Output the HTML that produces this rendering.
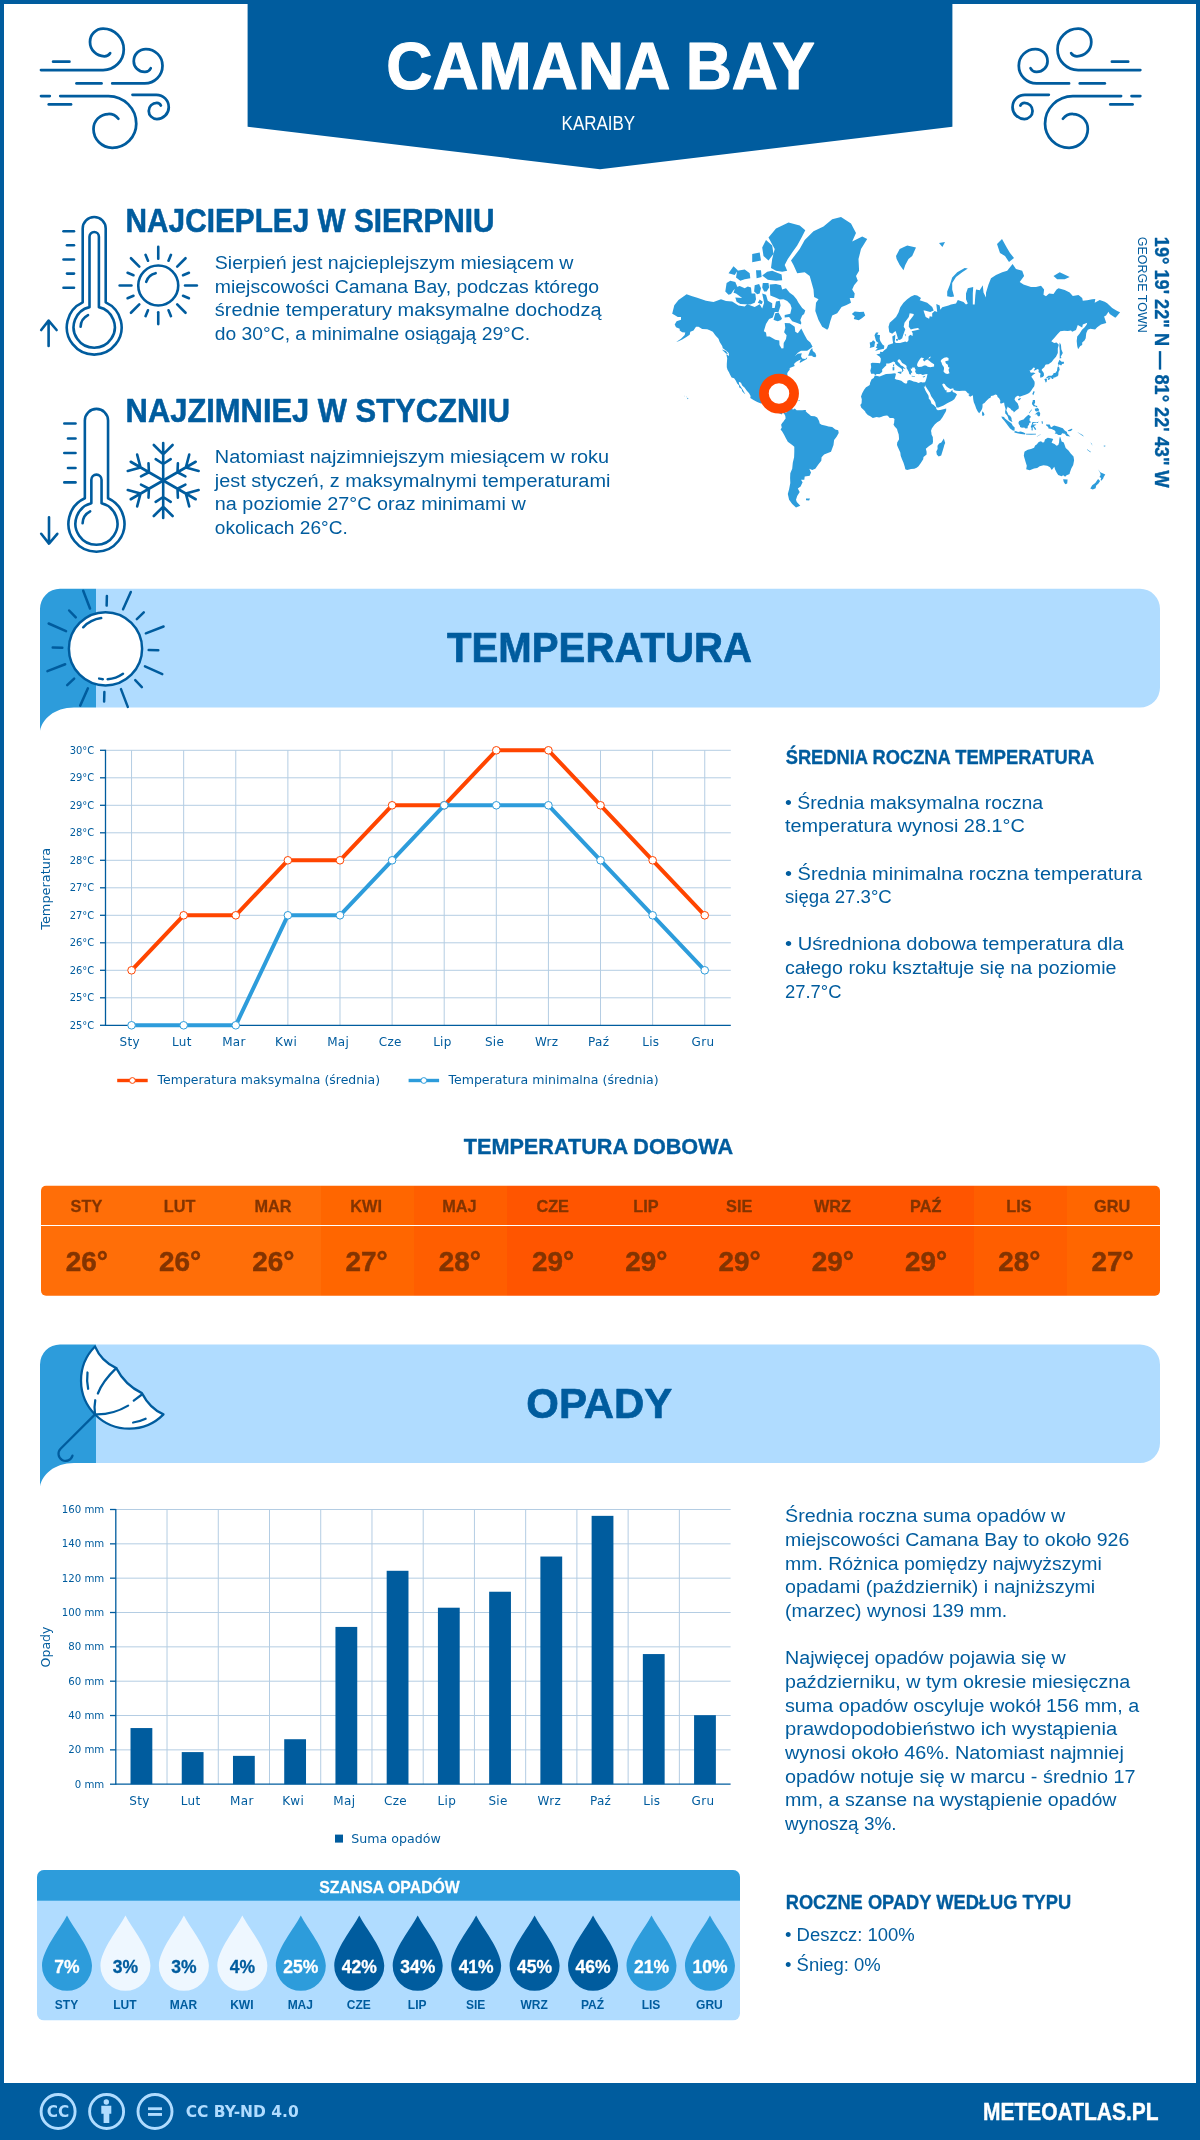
<!DOCTYPE html>
<html lang="pl">
<head>
<meta charset="utf-8">
<title>Camana Bay - pogoda i klimat</title>
<style>
html,body{margin:0;padding:0;background:#fff;}
body{width:1200px;height:2140px;overflow:hidden;}
svg{display:block;will-change:transform;}
</style>
</head>
<body>
<svg width="1200" height="2140" viewBox="0 0 1200 2140" font-family="'Liberation Sans', Arial, sans-serif" fill="#005c9e">
<rect x="0" y="0" width="1200" height="2140" fill="#005c9e"/>
<rect x="4" y="4" width="1192" height="2079" fill="#fff"/>
<polygon points="247.6,0 952.4,0 952.4,126.8 600,169.2 247.6,126.8" fill="#005c9e"/>
<text x="386.30" y="88.70" font-size="66.90" font-weight="bold" fill="#fff" textLength="428.50" lengthAdjust="spacingAndGlyphs" stroke="#fff" stroke-width="1.14" stroke-linejoin="round">CAMANA BAY</text>
<text x="561.60" y="130.40" font-size="19.30" fill="#fff" textLength="73.50" lengthAdjust="spacingAndGlyphs">KARAIBY</text>
<g transform="translate(30 20) scale(0.125)" fill="none" stroke="#005c9e" stroke-width="22" stroke-linecap="round" stroke-linejoin="round">
<path d="M88,400 H585 A165,165 0 0 0 750,235 A165,165 0 0 0 585,70 A105,105 0 0 0 480,175 A115,115 0 0 0 595,290 A55,55 0 0 0 641,265"/>
<path d="M185,333 H315"/>
<path d="M372,507 H572"/>
<path d="M658,507 H918 A142,142 0 0 0 1060,365 A133,133 0 0 0 927,232 A97,97 0 0 0 830,329 A86,86 0 0 0 916,415 A52,52 0 0 0 966,386"/>
<path d="M88,608 H158"/>
<path d="M242,608 H628 A222,222 0 0 1 850,830 A192,192 0 0 1 658,1022 A150,150 0 0 1 508,872 A120,120 0 0 1 628,752 A100,100 0 0 1 707,790"/>
<path d="M150,675 H328"/>
<path d="M820,598 H1011 A99,99 0 0 1 1110,697 A95,95 0 0 1 1015,792 A65,65 0 0 1 950,727 A65,65 0 0 1 1015,662 A35,35 0 0 1 1047,684"/>
</g>
<g transform="translate(1151.3 20) scale(-0.125 0.125)" fill="none" stroke="#005c9e" stroke-width="22" stroke-linecap="round" stroke-linejoin="round">
<path d="M88,400 H585 A165,165 0 0 0 750,235 A165,165 0 0 0 585,70 A105,105 0 0 0 480,175 A115,115 0 0 0 595,290 A55,55 0 0 0 641,265"/>
<path d="M185,333 H315"/>
<path d="M372,507 H572"/>
<path d="M658,507 H918 A142,142 0 0 0 1060,365 A133,133 0 0 0 927,232 A97,97 0 0 0 830,329 A86,86 0 0 0 916,415 A52,52 0 0 0 966,386"/>
<path d="M88,608 H158"/>
<path d="M242,608 H628 A222,222 0 0 1 850,830 A192,192 0 0 1 658,1022 A150,150 0 0 1 508,872 A120,120 0 0 1 628,752 A100,100 0 0 1 707,790"/>
<path d="M150,675 H328"/>
<path d="M820,598 H1011 A99,99 0 0 1 1110,697 A95,95 0 0 1 1015,792 A65,65 0 0 1 950,727 A65,65 0 0 1 1015,662 A35,35 0 0 1 1047,684"/>
</g>
<g fill="none" stroke="#005c9e" stroke-width="2.6" stroke-linecap="round" stroke-linejoin="round">
<path d="M82.70,302.33 V228.50 A11.5,11.5 0 0 1 105.70,228.50 V302.33 A27.4,27.4 0 1 1 82.70,302.33 Z"/>
<path d="M89.50,307.14 V236.75 A4.7,4.7 0 0 1 98.90,236.75 V307.14 A20.6,20.6 0 1 1 89.50,307.14 Z"/>
<path d="M80.61,326.73 A13.60,13.60 0 0 1 88.03,315.09"/>
<path d="M63.50,231.20 H74.00"/>
<path d="M67.00,245.30 H74.00"/>
<path d="M63.50,259.50 H74.00"/>
<path d="M67.00,273.60 H74.00"/>
<path d="M63.50,287.75 H74.00"/>
<path d="M48.6,346 V321.5 M41.2,330 L48.6,320.6 L56.6,330"/>
</g>
<g fill="none" stroke="#005c9e" stroke-width="2.6" stroke-linecap="round" stroke-linejoin="round">
<path d="M84.85,498.22 V420.50 A11.6,11.6 0 0 1 108.05,420.50 V498.22 A28.0,28.0 0 1 1 84.85,498.22 Z"/>
<path d="M91.35,503.33 V479.75 A5.1,5.1 0 0 1 101.55,479.75 V503.33 A21.0,21.0 0 1 1 91.35,503.33 Z"/>
<path d="M82.60,523.22 A13.86,13.86 0 0 1 90.16,511.35"/>
<path d="M64.30,423.50 H75.50"/>
<path d="M68.00,438.50 H75.50"/>
<path d="M64.30,453.00 H75.50"/>
<path d="M68.00,468.00 H75.50"/>
<path d="M64.30,482.40 H75.50"/>
<path d="M49,517.3 V543 M41.2,533.8 L49,543.6 L57.3,533.8"/>
</g>
<g fill="none" stroke="#005c9e" stroke-width="2.6" stroke-linecap="round">
<circle cx="158.25" cy="285.5" r="20"/>
<path d="M185.05,285.50 L196.85,285.50"/>
<path d="M183.01,295.76 L188.92,298.21"/>
<path d="M177.20,304.45 L185.54,312.79"/>
<path d="M168.51,310.26 L170.96,316.17"/>
<path d="M158.25,312.30 L158.25,324.10"/>
<path d="M147.99,310.26 L145.54,316.17"/>
<path d="M139.30,304.45 L130.96,312.79"/>
<path d="M133.49,295.76 L127.58,298.21"/>
<path d="M131.45,285.50 L119.65,285.50"/>
<path d="M133.49,275.24 L127.58,272.79"/>
<path d="M139.30,266.55 L130.96,258.21"/>
<path d="M147.99,260.74 L145.54,254.83"/>
<path d="M158.25,258.70 L158.25,246.90"/>
<path d="M168.51,260.74 L170.96,254.83"/>
<path d="M177.20,266.55 L185.54,258.21"/>
<path d="M183.01,275.24 L188.92,272.79"/>
<path d="M146.20,281.82 A12.6,12.6 0 0 1 155.63,273.18"/>
</g>
<g fill="none" stroke="#005c9e" stroke-width="2.6" stroke-linecap="round" stroke-linejoin="round">
<g transform="rotate(0 163.2 480.5)">
<path d="M163.2,480.5 V443.00 M153.80,445.00 L163.2,454.30 L172.60,445.00 M155.70,459.20 L163.2,464.00 L170.70,459.20"/>
</g>
<g transform="rotate(60 163.2 480.5)">
<path d="M163.2,480.5 V443.00 M153.80,445.00 L163.2,454.30 L172.60,445.00 M155.70,459.20 L163.2,464.00 L170.70,459.20"/>
</g>
<g transform="rotate(120 163.2 480.5)">
<path d="M163.2,480.5 V443.00 M153.80,445.00 L163.2,454.30 L172.60,445.00 M155.70,459.20 L163.2,464.00 L170.70,459.20"/>
</g>
<g transform="rotate(180 163.2 480.5)">
<path d="M163.2,480.5 V443.00 M153.80,445.00 L163.2,454.30 L172.60,445.00 M155.70,459.20 L163.2,464.00 L170.70,459.20"/>
</g>
<g transform="rotate(240 163.2 480.5)">
<path d="M163.2,480.5 V443.00 M153.80,445.00 L163.2,454.30 L172.60,445.00 M155.70,459.20 L163.2,464.00 L170.70,459.20"/>
</g>
<g transform="rotate(300 163.2 480.5)">
<path d="M163.2,480.5 V443.00 M153.80,445.00 L163.2,454.30 L172.60,445.00 M155.70,459.20 L163.2,464.00 L170.70,459.20"/>
</g>
</g>
<path d="M60,588.8 H1140 A20,20 0 0 1 1160,608.8 V687.5 A20,20 0 0 1 1140,707.5 H96 V588.8 Z" fill="#b0dcff"/>
<path d="M40,608.8 A20,20 0 0 1 60,588.8 H96 V707.5 H74 C54,707.5 42,719.5 40,731.0 Z" fill="#2d9cdb"/>
<path d="M60,1344.4 H1140 A20,20 0 0 1 1160,1364.4 V1443.1000000000001 A20,20 0 0 1 1140,1463.1000000000001 H96 V1344.4 Z" fill="#b0dcff"/>
<path d="M40,1364.4 A20,20 0 0 1 60,1344.4 H96 V1463.1000000000001 H74 C54,1463.1000000000001 42,1475.1000000000001 40,1486.6000000000001 Z" fill="#2d9cdb"/>
<g fill="none" stroke="#005c9e" stroke-width="2.5" stroke-linecap="round">
<circle cx="105.5" cy="648.8" r="36.6" fill="#fff"/>
<path d="M106.63,605.61 L106.88,596.02"/>
<path d="M123.07,609.33 L130.80,591.98"/>
<path d="M136.84,619.06 L143.80,612.45"/>
<path d="M145.83,633.32 L163.57,626.51"/>
<path d="M148.69,649.93 L158.28,650.18"/>
<path d="M144.97,666.37 L162.32,674.10"/>
<path d="M135.24,680.14 L141.85,687.10"/>
<path d="M120.98,689.13 L127.79,706.87"/>
<path d="M104.37,691.99 L104.12,701.58"/>
<path d="M87.93,688.27 L80.20,705.62"/>
<path d="M74.16,678.54 L67.20,685.15"/>
<path d="M65.17,664.28 L47.43,671.09"/>
<path d="M62.31,647.67 L52.72,647.42"/>
<path d="M66.03,631.23 L48.68,623.50"/>
<path d="M75.76,617.46 L69.15,610.50"/>
<path d="M90.02,608.47 L83.21,590.73"/>
<path d="M83.20,627.27 A31,31 0 0 1 101.19,618.10"/>
<path d="M122.99,673.78 A30.5,30.5 0 0 1 107.63,679.23"/>
<path d="M102.84,679.18 A30.5,30.5 0 0 1 99.16,678.63"/>
</g>
<g transform="translate(30 1335) scale(0.125)" fill="none" stroke="#005c9e" stroke-width="18" stroke-linecap="round" stroke-linejoin="round">
<path d="M520,92 A380,380 0 0 0 1068,635 Q960,590 895,465 Q760,400 690,265 Q570,210 520,92 Z" fill="#fff"/>
<path d="M690,265 Q580,370 543,468"/>
<path d="M522,522 Q512,570 520,635"/>
<path d="M520,635 Q660,640 785,565"/>
<path d="M830,525 L890,480"/>
<path d="M460,300 Q452,365 465,430"/>
<path d="M825,700 Q880,692 925,670"/>
<path d="M520,635 L244.7,909.7 A57,57 0 1 0 340,965"/>
</g>
<text x="125.60" y="231.70" font-size="32.70" font-weight="bold" textLength="369.00" lengthAdjust="spacingAndGlyphs" stroke="#005c9e" stroke-width="0.56" stroke-linejoin="round">NAJCIEPLEJ W SIERPNIU</text>
<text x="214.80" y="269.00" font-size="19.20" textLength="358.70" lengthAdjust="spacingAndGlyphs">Sierpień jest najcieplejszym miesiącem w</text>
<text x="214.80" y="292.50" font-size="19.20" textLength="384.30" lengthAdjust="spacingAndGlyphs">miejscowości Camana Bay, podczas którego</text>
<text x="214.80" y="316.00" font-size="19.20" textLength="386.70" lengthAdjust="spacingAndGlyphs">średnie temperatury maksymalne dochodzą</text>
<text x="214.80" y="339.50" font-size="19.20" textLength="315.30" lengthAdjust="spacingAndGlyphs">do 30°C, a minimalne osiągają 29°C.</text>
<text x="125.60" y="421.70" font-size="32.70" font-weight="bold" textLength="384.50" lengthAdjust="spacingAndGlyphs" stroke="#005c9e" stroke-width="0.56" stroke-linejoin="round">NAJZIMNIEJ W STYCZNIU</text>
<text x="214.80" y="463.30" font-size="19.20" textLength="394.30" lengthAdjust="spacingAndGlyphs">Natomiast najzimniejszym miesiącem w roku</text>
<text x="214.80" y="486.90" font-size="19.20" textLength="395.60" lengthAdjust="spacingAndGlyphs">jest styczeń, z maksymalnymi temperaturami</text>
<text x="214.80" y="510.40" font-size="19.20" textLength="311.00" lengthAdjust="spacingAndGlyphs">na poziomie 27°C oraz minimami w</text>
<text x="214.80" y="533.90" font-size="19.20" textLength="133.00" lengthAdjust="spacingAndGlyphs">okolicach 26°C.</text>
<text x="1154.70" y="236.80" font-size="21.00" font-weight="bold" textLength="251.00" lengthAdjust="spacingAndGlyphs" transform="rotate(90 1154.70 236.80)" stroke="#005c9e" stroke-width="0.36" stroke-linejoin="round">19° 19' 22" N — 81° 22' 43" W</text>
<text x="1137.70" y="236.80" font-size="13.60" textLength="96.00" lengthAdjust="spacingAndGlyphs" transform="rotate(90 1137.70 236.80)">GEORGE TOWN</text>
<text x="785.70" y="763.70" font-size="19.60" font-weight="bold" textLength="308.50" lengthAdjust="spacingAndGlyphs" stroke="#005c9e" stroke-width="0.33" stroke-linejoin="round">ŚREDNIA ROCZNA TEMPERATURA</text>
<text x="785.00" y="808.80" font-size="19.20" textLength="258.20" lengthAdjust="spacingAndGlyphs">• Średnia maksymalna roczna</text>
<text x="785.00" y="832.40" font-size="19.20" textLength="239.80" lengthAdjust="spacingAndGlyphs">temperatura wynosi 28.1°C</text>
<text x="785.00" y="879.60" font-size="19.20" textLength="357.20" lengthAdjust="spacingAndGlyphs">• Średnia minimalna roczna temperatura</text>
<text x="785.00" y="903.20" font-size="19.20" textLength="106.80" lengthAdjust="spacingAndGlyphs">sięga 27.3°C</text>
<text x="785.00" y="950.40" font-size="19.20" textLength="338.80" lengthAdjust="spacingAndGlyphs">• Uśredniona dobowa temperatura dla</text>
<text x="785.00" y="974.00" font-size="19.20" textLength="331.50" lengthAdjust="spacingAndGlyphs">całego roku kształtuje się na poziomie</text>
<text x="785.00" y="997.60" font-size="19.20" textLength="56.50" lengthAdjust="spacingAndGlyphs">27.7°C</text>
<text x="463.75" y="1154.25" font-size="21.20" font-weight="bold" textLength="269.30" lengthAdjust="spacingAndGlyphs" stroke="#005c9e" stroke-width="0.36" stroke-linejoin="round">TEMPERATURA DOBOWA</text>
<text x="785.00" y="1522.30" font-size="19.20" textLength="280.20" lengthAdjust="spacingAndGlyphs">Średnia roczna suma opadów w</text>
<text x="785.00" y="1545.90" font-size="19.20" textLength="344.30" lengthAdjust="spacingAndGlyphs">miejscowości Camana Bay to około 926</text>
<text x="785.00" y="1569.60" font-size="19.20" textLength="316.80" lengthAdjust="spacingAndGlyphs">mm. Różnica pomiędzy najwyższymi</text>
<text x="785.00" y="1593.20" font-size="19.20" textLength="310.20" lengthAdjust="spacingAndGlyphs">opadami (październik) i najniższymi</text>
<text x="785.00" y="1616.90" font-size="19.20" textLength="222.20" lengthAdjust="spacingAndGlyphs">(marzec) wynosi 139 mm.</text>
<text x="785.00" y="1664.30" font-size="19.20" textLength="280.80" lengthAdjust="spacingAndGlyphs">Najwięcej opadów pojawia się w</text>
<text x="785.00" y="1688.00" font-size="19.20" textLength="345.10" lengthAdjust="spacingAndGlyphs">październiku, w tym okresie miesięczna</text>
<text x="785.00" y="1711.70" font-size="19.20" textLength="354.20" lengthAdjust="spacingAndGlyphs">suma opadów oscyluje wokół 156 mm, a</text>
<text x="785.00" y="1735.30" font-size="19.20" textLength="332.20" lengthAdjust="spacingAndGlyphs">prawdopodobieństwo ich wystąpienia</text>
<text x="785.00" y="1759.00" font-size="19.20" textLength="338.80" lengthAdjust="spacingAndGlyphs">wynosi około 46%. Natomiast najmniej</text>
<text x="785.00" y="1782.70" font-size="19.20" textLength="350.60" lengthAdjust="spacingAndGlyphs">opadów notuje się w marcu - średnio 17</text>
<text x="785.00" y="1806.40" font-size="19.20" textLength="331.50" lengthAdjust="spacingAndGlyphs">mm, a szanse na wystąpienie opadów</text>
<text x="785.00" y="1830.00" font-size="19.20" textLength="111.50" lengthAdjust="spacingAndGlyphs">wynoszą 3%.</text>
<text x="785.70" y="1908.80" font-size="19.60" font-weight="bold" textLength="285.50" lengthAdjust="spacingAndGlyphs" stroke="#005c9e" stroke-width="0.33" stroke-linejoin="round">ROCZNE OPADY WEDŁUG TYPU</text>
<text x="785.00" y="1941.40" font-size="19.20" textLength="129.70" lengthAdjust="spacingAndGlyphs">• Deszcz: 100%</text>
<text x="785.00" y="1970.70" font-size="19.20" textLength="95.70" lengthAdjust="spacingAndGlyphs">• Śnieg: 0%</text>
<text x="447.00" y="662.40" font-size="42.40" font-weight="bold" textLength="305.00" lengthAdjust="spacingAndGlyphs" stroke="#005c9e" stroke-width="0.72" stroke-linejoin="round">TEMPERATURA</text>
<text x="526.30" y="1418.30" font-size="42.40" font-weight="bold" textLength="146.00" lengthAdjust="spacingAndGlyphs" stroke="#005c9e" stroke-width="0.72" stroke-linejoin="round">OPADY</text>
<path fill="#2d9cdb" d="M672.2,313.8 L674.3,305.2 L678.5,300.0 L686.6,294.3 L692.2,296.3 L697.2,297.8 L706.0,300.7 L713.5,302.1 L721.0,299.2 L726.0,301.0 L732.2,301.4 L738.5,305.6 L744.7,306.6 L747.2,304.2 L754.7,306.9 L759.7,304.2 L762.2,308.5 L764.1,302.8 L762.2,293.6 L766.0,294.7 L767.8,300.7 L772.2,303.2 L772.2,307.9 L774.7,307.9 L776.0,301.4 L779.7,300.7 L780.6,305.6 L778.5,312.0 L774.7,312.0 L772.8,317.4 L769.1,319.1 L766.0,324.0 L763.8,331.2 L766.0,332.4 L766.6,336.4 L769.7,336.4 L775.3,339.8 L779.3,340.6 L779.5,345.1 L781.6,348.6 L783.5,348.2 L783.7,343.0 L786.0,339.1 L786.6,335.2 L784.1,332.2 L785.3,327.9 L784.7,323.0 L789.7,323.2 L794.7,326.7 L795.3,331.7 L797.8,333.3 L801.3,328.5 L804.7,335.2 L807.2,339.8 L810.3,342.4 L812.6,346.8 L810.3,348.4 L807.2,350.7 L801.0,350.7 L797.8,352.7 L794.7,356.2 L797.8,353.8 L801.8,353.2 L801.0,356.2 L802.2,358.4 L805.3,359.0 L807.2,357.3 L806.8,359.1 L802.8,361.3 L799.7,363.0 L800.0,361.1 L801.6,359.3 L798.5,360.4 L796.0,362.1 L794.0,363.9 L794.7,365.9 L792.2,367.1 L789.7,367.9 L789.7,369.7 L787.8,372.1 L787.2,373.8 L787.7,376.3 L786.0,377.5 L783.5,379.3 L781.0,381.8 L780.5,384.2 L782.0,388.4 L782.0,390.8 L780.6,390.9 L778.7,387.5 L778.7,385.5 L777.2,384.2 L775.3,384.6 L773.5,383.6 L771.0,383.7 L770.5,385.5 L768.5,385.2 L765.3,384.6 L763.5,385.6 L760.7,387.6 L760.6,390.5 L760.0,394.6 L760.7,397.2 L762.2,399.3 L764.1,400.4 L767.2,399.8 L768.8,398.6 L769.3,396.6 L773.5,396.0 L772.8,398.6 L772.0,400.6 L771.2,403.2 L774.7,403.4 L777.8,404.3 L778.0,407.1 L777.5,409.7 L779.1,411.7 L781.0,412.5 L782.8,411.4 L784.7,411.8 L786.0,413.0 L787.7,410.2 L789.5,409.4 L792.2,408.1 L792.8,409.7 L794.8,408.4 L796.6,410.2 L799.7,410.2 L802.2,410.3 L804.7,410.1 L806.0,411.6 L807.2,412.8 L809.7,414.7 L811.0,416.0 L814.7,416.2 L817.2,417.6 L819.1,421.0 L819.7,423.5 L821.6,424.7 L826.0,425.7 L828.5,426.6 L832.2,427.1 L835.3,429.4 L838.2,430.3 L838.7,432.9 L836.6,436.7 L834.1,439.9 L833.5,445.1 L832.0,449.0 L831.0,451.7 L827.2,453.2 L824.1,454.5 L821.6,457.2 L821.3,460.7 L818.5,464.3 L815.3,468.7 L812.2,469.9 L809.3,468.7 L811.0,472.6 L809.7,475.7 L804.7,476.5 L804.3,479.8 L801.0,479.8 L802.6,482.3 L800.6,486.6 L797.8,488.4 L799.7,492.1 L797.2,495.9 L796.0,499.8 L796.8,501.9 L800.3,505.7 L796.0,507.5 L792.2,504.0 L789.1,499.8 L787.8,493.9 L789.1,489.3 L790.3,483.1 L790.1,478.1 L790.3,473.3 L792.2,468.7 L792.8,462.8 L794.1,457.2 L794.3,451.7 L794.3,446.8 L792.2,445.1 L787.8,441.8 L786.0,438.6 L784.1,434.8 L782.2,431.6 L780.6,429.5 L781.8,427.6 L781.1,424.7 L782.2,422.9 L783.5,421.6 L784.1,420.4 L785.6,418.5 L785.3,416.0 L784.3,414.1 L782.8,412.5 L781.6,414.4 L780.3,413.7 L778.5,413.1 L777.2,411.6 L775.2,410.9 L775.0,409.7 L772.8,407.1 L770.3,406.5 L767.8,405.8 L765.3,403.8 L763.5,403.1 L761.0,403.4 L757.2,401.9 L753.5,400.0 L750.3,398.0 L750.6,396.0 L749.1,393.3 L746.6,390.5 L744.7,387.7 L742.2,385.6 L741.0,382.7 L738.8,381.7 L739.1,384.2 L741.0,387.0 L742.8,389.8 L744.3,392.6 L745.3,394.0 L744.3,393.5 L742.2,391.2 L741.6,389.1 L739.1,387.3 L739.1,385.6 L737.2,383.4 L735.7,380.5 L734.1,378.3 L731.6,377.5 L730.0,374.4 L729.1,372.4 L727.5,369.7 L726.8,367.2 L726.8,363.9 L727.2,358.3 L726.3,354.2 L729.1,355.9 L728.7,353.1 L726.0,350.6 L722.8,348.2 L722.2,346.1 L719.7,341.9 L718.5,338.7 L715.3,335.2 L712.8,331.7 L709.7,330.2 L707.2,329.2 L702.2,329.0 L698.5,326.7 L696.0,326.7 L693.5,330.4 L690.3,331.7 L689.7,334.8 L686.0,337.3 L682.2,339.5 L678.5,341.3 L676.2,341.9 L681.0,338.7 L684.7,335.0 L685.3,332.4 L682.2,332.2 L679.7,330.4 L679.7,328.7 L676.0,327.2 L674.7,324.6 L676.6,321.3 L681.0,319.7 L681.0,317.1 L677.8,317.1 L674.1,314.7Z M827.2,329.7 L822.2,326.7 L818.5,320.0 L815.3,311.1 L816.0,302.8 L818.5,299.2 L814.1,297.0 L813.5,289.5 L809.7,275.9 L804.7,272.3 L797.2,273.3 L793.5,265.1 L791.0,260.4 L799.7,249.1 L804.7,239.9 L813.5,231.2 L823.5,226.4 L832.2,219.2 L841.0,217.0 L851.0,223.4 L856.0,233.0 L852.2,241.5 L862.2,236.5 L867.2,239.0 L861.0,249.1 L858.5,259.1 L859.1,270.7 L856.0,275.9 L857.8,280.7 L854.1,285.2 L852.2,289.5 L854.7,293.6 L854.1,298.1 L849.7,298.1 L851.0,302.8 L846.0,305.2 L841.6,306.9 L837.2,313.2 L832.2,315.6 L830.3,321.3 L828.5,327.9Z M801.0,324.6 L797.2,323.0 L792.2,321.3 L789.1,317.1 L784.7,317.4 L784.7,315.0 L790.3,313.8 L791.6,307.9 L790.3,304.2 L787.2,301.0 L783.5,299.2 L779.7,299.6 L776.0,297.8 L770.3,295.5 L769.7,284.4 L776.0,283.9 L781.0,285.2 L782.2,289.5 L786.0,288.3 L789.7,292.8 L793.5,295.5 L796.6,299.2 L798.5,302.8 L802.2,307.9 L805.3,310.4 L804.1,314.1 L802.2,315.6 L800.3,320.0 L801.3,322.7Z M787.2,270.7 L782.2,271.8 L776.0,270.7 L771.0,268.0 L772.2,259.1 L774.7,249.1 L768.5,237.4 L776.0,228.4 L788.5,222.4 L799.7,225.5 L805.3,230.3 L801.6,237.4 L797.2,245.4 L792.2,252.6 L787.8,259.1 L784.7,265.1Z M762.2,247.6 L766.0,239.9 L772.2,245.4 L773.5,253.9 L768.5,260.4 L763.5,255.9Z M782.2,280.2 L781.6,274.4 L772.2,270.7 L767.2,271.8 L762.2,275.4 L767.8,279.8 L776.0,280.7Z M754.7,302.8 L750.3,304.5 L744.7,304.2 L740.3,303.9 L736.6,301.8 L735.3,297.4 L742.2,298.1 L736.0,293.6 L733.5,292.8 L735.3,287.4 L739.7,286.1 L744.7,288.3 L747.8,286.5 L751.0,287.4 L751.6,293.6 L755.3,293.6 L756.0,299.2Z M728.5,294.7 L725.3,291.6 L726.6,283.0 L730.3,280.7 L735.3,282.1 L737.2,286.5 L733.5,290.3 L731.0,293.9Z M736.0,277.4 L737.2,270.7 L744.7,269.6 L749.7,273.3 L750.3,278.3 L744.7,279.3 L740.3,280.7Z M757.2,294.3 L754.1,291.6 L754.7,285.2 L759.1,283.9 L761.0,288.3 L759.7,293.6Z M764.1,291.6 L762.2,287.4 L762.8,283.0 L768.5,283.0 L769.1,287.4 L766.6,291.6Z M773.5,319.7 L775.3,313.2 L778.5,312.6 L782.0,318.5 L781.0,320.0 L777.8,321.3 L775.3,320.5Z M756.6,278.3 L756.0,270.2 L761.0,270.2 L761.6,276.9Z M752.2,262.2 L752.2,253.9 L759.7,252.6 L761.0,260.4Z M728.5,273.3 L733.5,266.3 L737.8,270.2 L734.7,274.9Z M757.8,302.8 L759.7,299.6 L762.8,301.8 L761.6,304.2Z M808.1,355.7 L810.3,350.2 L812.2,348.0 L812.8,351.1 L815.3,353.1 L816.3,355.9 L815.3,357.3 L812.8,356.8 L812.2,355.7Z M721.8,349.6 L726.0,351.1 L728.0,354.2 L726.0,353.6Z M776.0,395.4 L779.7,393.7 L782.2,393.8 L786.0,395.7 L789.5,397.7 L785.1,398.2 L784.7,397.1 L781.0,395.3 L777.8,395.0Z M789.1,400.1 L791.2,398.1 L794.7,398.1 L796.7,399.7 L794.1,400.4 L792.6,401.0 L790.3,400.4Z M784.2,400.1 L786.8,400.4 L786.0,400.9 L784.3,400.6Z M798.2,400.0 L800.1,400.1 L800.0,400.6 L798.2,400.6Z M851.8,314.1 L854.7,311.4 L859.7,312.0 L863.8,311.7 L865.2,315.6 L862.2,318.0 L858.8,320.2 L853.8,319.1 L854.7,316.2Z M875.1,351.1 L878.5,350.0 L884.0,348.8 L884.3,345.7 L882.5,344.5 L880.3,340.9 L879.7,338.7 L880.0,335.0 L877.2,334.8 L878.5,332.6 L876.0,332.6 L874.5,335.2 L875.7,339.8 L876.2,341.3 L878.5,343.0 L876.6,344.5 L877.0,346.1 L875.7,347.6 L877.8,348.4 L876.6,349.2Z M869.7,348.0 L874.3,346.8 L874.7,344.1 L875.3,341.9 L873.1,340.2 L871.6,341.9 L869.7,342.6 L870.0,344.7 L870.3,346.1Z M875.2,375.2 L874.1,373.8 L871.1,373.7 L870.3,370.8 L871.2,367.2 L870.7,363.5 L872.2,362.7 L877.8,363.0 L880.0,363.2 L880.7,361.1 L880.8,358.6 L879.5,356.4 L876.3,354.4 L880.2,353.6 L880.0,351.7 L882.5,352.1 L884.2,350.2 L886.6,348.4 L888.1,345.1 L891.0,344.1 L893.1,343.2 L892.6,339.8 L892.3,336.4 L895.3,334.8 L895.1,338.7 L894.7,341.9 L896.0,343.0 L900.0,343.0 L905.3,341.5 L907.0,342.2 L908.5,340.2 L908.5,336.4 L910.3,334.8 L912.6,335.9 L912.7,333.3 L911.6,331.2 L917.2,330.0 L919.7,329.2 L917.8,327.9 L913.5,328.7 L910.8,329.5 L908.8,326.7 L909.1,321.3 L913.5,315.6 L913.8,314.1 L909.7,313.2 L908.8,317.1 L904.5,322.7 L903.7,326.7 L905.3,329.2 L903.1,335.2 L902.2,338.2 L900.1,339.8 L898.5,340.0 L897.8,338.0 L896.3,332.9 L895.5,330.9 L892.2,333.8 L889.3,332.2 L888.5,326.7 L889.7,322.7 L892.8,320.0 L896.0,317.1 L898.5,312.6 L900.3,307.2 L903.5,302.8 L907.2,299.2 L911.0,296.6 L914.5,295.1 L917.2,295.5 L921.0,298.1 L919.7,300.3 L923.5,301.4 L927.2,302.8 L932.2,306.9 L933.7,310.4 L930.3,312.0 L924.7,310.4 L923.5,310.4 L925.7,317.1 L929.1,318.8 L929.7,316.2 L932.2,316.8 L932.2,313.2 L934.7,311.1 L937.2,312.0 L936.3,303.9 L939.7,305.6 L940.3,309.8 L942.2,307.2 L948.5,305.6 L951.0,304.5 L956.0,303.5 L957.8,300.0 L963.5,302.1 L966.0,304.5 L967.8,303.5 L966.0,299.2 L966.0,293.6 L967.8,288.3 L973.2,287.0 L972.8,293.6 L972.8,304.5 L974.7,304.5 L975.3,295.5 L976.0,289.5 L979.7,290.3 L982.8,285.2 L983.5,292.4 L986.0,297.4 L986.0,292.8 L988.5,284.4 L991.0,278.3 L996.0,274.9 L1002.2,272.3 L1007.2,270.7 L1012.6,264.0 L1016.0,269.1 L1022.2,270.7 L1024.1,275.9 L1019.7,282.1 L1023.5,284.4 L1031.0,287.0 L1036.0,287.0 L1041.0,285.7 L1044.1,289.5 L1043.5,294.7 L1046.0,296.3 L1049.1,293.6 L1053.5,293.9 L1056.6,289.5 L1058.5,288.3 L1064.7,289.9 L1069.7,292.4 L1072.8,295.9 L1078.5,295.1 L1082.2,298.1 L1082.8,300.7 L1087.2,300.3 L1092.2,299.2 L1095.3,298.9 L1094.7,302.8 L1099.7,300.0 L1104.7,301.8 L1107.2,303.2 L1112.2,307.9 L1117.2,311.1 L1120.1,312.3 L1116.6,316.5 L1115.3,317.7 L1109.7,314.1 L1108.5,311.7 L1106.0,315.6 L1104.1,316.5 L1106.3,323.0 L1101.0,324.6 L1097.2,327.2 L1095.1,329.5 L1090.3,328.7 L1087.8,329.7 L1086.3,332.9 L1086.0,335.2 L1085.7,338.2 L1084.5,340.6 L1082.2,342.6 L1082.2,344.9 L1080.3,346.1 L1078.1,349.2 L1077.2,346.1 L1076.7,340.9 L1077.2,336.4 L1079.7,333.6 L1082.0,329.7 L1084.7,327.2 L1086.6,324.8 L1087.2,322.7 L1082.8,324.6 L1082.2,327.4 L1077.8,325.1 L1076.0,330.0 L1072.2,331.7 L1071.0,330.4 L1067.8,330.9 L1064.1,330.7 L1060.3,331.2 L1057.2,334.5 L1054.7,337.5 L1051.3,341.3 L1054.1,343.0 L1056.6,342.6 L1058.8,344.7 L1057.8,348.2 L1057.8,353.1 L1056.0,356.8 L1053.5,359.5 L1051.6,362.1 L1048.5,364.2 L1046.0,364.5 L1045.3,365.1 L1044.3,367.2 L1042.2,368.9 L1041.6,370.0 L1043.8,372.9 L1044.0,375.5 L1042.8,377.1 L1040.3,377.7 L1040.1,375.2 L1040.7,373.7 L1038.5,372.1 L1038.8,369.7 L1037.6,368.9 L1034.7,370.5 L1033.8,370.7 L1035.1,368.1 L1033.5,367.4 L1031.0,370.2 L1029.5,370.5 L1030.8,372.7 L1033.2,372.4 L1035.5,373.2 L1032.8,374.9 L1031.3,376.8 L1032.6,378.6 L1034.5,381.5 L1034.7,383.0 L1034.5,384.9 L1034.1,386.6 L1032.2,389.1 L1031.0,390.9 L1029.1,392.9 L1027.2,394.1 L1024.7,394.9 L1021.6,396.0 L1020.2,396.4 L1019.7,397.6 L1019.3,396.0 L1017.6,395.8 L1015.6,397.1 L1014.5,399.3 L1015.6,401.3 L1017.6,403.2 L1018.8,406.5 L1018.7,408.6 L1016.0,410.4 L1013.8,412.5 L1013.3,410.9 L1011.6,410.2 L1010.3,408.4 L1008.5,407.4 L1007.8,406.5 L1007.2,408.0 L1006.3,410.3 L1007.5,412.8 L1008.5,415.0 L1010.1,415.7 L1011.5,417.9 L1011.6,420.0 L1012.5,421.8 L1011.5,421.8 L1008.8,419.9 L1007.7,416.6 L1006.8,415.1 L1005.3,413.5 L1005.1,411.6 L1005.6,409.0 L1004.5,405.2 L1004.1,402.6 L1001.5,403.5 L1000.1,403.2 L1000.3,400.6 L999.1,398.2 L997.6,396.9 L997.0,394.9 L995.3,394.6 L993.5,395.6 L991.0,396.0 L990.7,397.6 L988.8,398.4 L986.0,401.3 L984.5,402.9 L982.6,403.9 L982.5,406.9 L982.0,409.0 L981.2,410.6 L980.0,412.2 L979.1,413.3 L977.6,411.2 L976.2,408.4 L975.1,405.2 L973.8,402.2 L973.2,399.3 L973.0,396.6 L972.8,395.3 L970.1,396.8 L968.3,394.9 L969.7,394.1 L967.8,393.3 L966.3,391.6 L965.3,390.7 L962.2,390.8 L959.1,390.9 L956.0,390.7 L953.8,390.1 L953.2,388.3 L950.3,389.0 L947.8,387.6 L946.0,385.9 L944.7,383.9 L943.2,383.6 L942.2,384.5 L943.1,386.6 L944.7,388.9 L945.0,390.5 L946.2,389.7 L946.7,391.2 L946.3,392.2 L948.5,392.3 L950.3,391.9 L952.3,389.7 L952.8,391.9 L955.3,393.1 L957.0,394.6 L955.3,397.5 L954.3,399.3 L952.2,400.8 L949.7,401.9 L947.2,403.2 L943.5,405.6 L938.5,407.4 L936.6,407.5 L935.7,404.8 L935.3,402.6 L933.5,399.6 L931.2,396.2 L929.7,392.6 L927.8,389.8 L926.0,387.0 L925.8,384.9 L925.1,387.3 L923.7,385.9 L923.0,384.3 L922.6,382.4 L925.0,382.3 L926.0,380.1 L926.7,377.5 L927.2,375.2 L927.5,374.1 L925.3,374.3 L922.8,375.1 L920.5,374.0 L918.5,374.3 L916.3,373.7 L915.1,371.6 L915.7,369.7 L915.0,368.7 L914.7,367.6 L912.2,367.6 L912.0,368.9 L910.7,368.2 L911.0,370.2 L912.2,371.8 L912.2,372.6 L911.0,373.0 L911.2,374.4 L910.2,374.4 L909.3,374.0 L908.7,371.8 L907.6,369.7 L906.5,368.1 L906.6,365.9 L905.3,364.7 L902.2,363.0 L900.3,360.0 L899.3,359.3 L897.7,359.9 L897.7,361.8 L899.2,363.0 L901.0,365.6 L902.5,365.9 L905.3,368.5 L905.2,369.2 L903.5,368.1 L903.0,369.4 L903.6,370.5 L902.3,372.1 L901.8,372.3 L902.2,370.8 L901.8,368.9 L900.1,367.7 L897.6,366.1 L895.3,364.0 L895.0,362.3 L893.2,361.4 L891.6,362.5 L889.0,363.4 L886.2,363.5 L886.2,365.6 L885.0,366.6 L882.6,368.9 L881.8,370.0 L882.5,371.0 L881.3,372.7 L879.5,374.1 L876.7,374.1Z M874.8,375.5 L879.7,376.6 L882.2,375.5 L886.0,374.0 L891.0,373.7 L894.5,373.2 L896.0,373.7 L895.5,376.0 L895.0,377.8 L894.7,378.4 L896.0,379.5 L898.7,379.9 L901.3,380.8 L904.1,382.9 L906.2,383.7 L907.2,382.7 L907.3,380.8 L909.3,379.9 L911.2,380.5 L913.5,381.5 L916.3,382.1 L918.5,382.9 L921.0,382.0 L922.6,382.4 L924.1,383.4 L923.0,384.3 L924.2,387.3 L925.3,390.2 L926.7,392.7 L928.3,395.3 L928.8,397.3 L928.7,398.5 L930.5,400.6 L931.6,403.8 L933.7,405.1 L935.6,407.1 L936.3,407.8 L936.2,408.9 L937.8,410.3 L940.3,409.9 L943.3,409.3 L946.2,408.5 L946.2,410.3 L945.7,411.7 L944.5,413.7 L942.5,417.2 L940.1,420.4 L937.2,422.3 L934.7,424.6 L933.2,426.6 L931.8,428.5 L931.0,431.0 L931.3,432.0 L931.6,434.8 L932.8,436.9 L933.0,441.8 L932.5,443.8 L929.1,446.1 L925.8,448.8 L926.6,451.7 L926.6,454.4 L923.5,456.9 L923.2,459.3 L921.0,462.7 L918.5,466.2 L916.6,467.7 L914.3,468.7 L911.0,468.9 L907.2,469.9 L905.3,469.2 L904.7,466.5 L903.5,462.8 L902.0,459.3 L900.7,455.8 L900.3,452.4 L897.8,447.0 L897.0,445.1 L897.2,442.5 L899.1,439.2 L898.7,434.5 L897.5,431.0 L897.0,429.1 L894.7,426.6 L893.5,424.4 L894.1,422.9 L894.3,420.6 L894.5,419.1 L893.2,417.9 L891.0,418.0 L889.7,418.1 L887.8,415.7 L886.5,415.5 L883.5,416.1 L881.0,417.0 L879.1,417.4 L876.6,417.0 L872.8,418.0 L870.3,416.2 L867.8,414.9 L865.7,412.7 L865.0,411.2 L863.5,409.7 L861.3,407.8 L860.3,404.9 L861.6,403.2 L861.8,399.3 L861.0,396.6 L862.2,393.3 L864.1,389.8 L866.0,387.3 L867.8,386.3 L869.7,384.9 L870.1,382.7 L871.6,379.3 L873.7,378.1Z M943.8,438.6 L945.2,443.1 L944.3,445.1 L943.8,447.0 L942.6,451.0 L941.2,455.5 L938.7,456.5 L936.8,454.4 L936.3,451.4 L937.6,449.0 L937.5,445.7 L939.1,443.6 L941.3,442.5 L942.6,440.5Z M1060.3,436.9 L1061.6,441.6 L1063.8,442.5 L1065.7,448.0 L1068.5,450.4 L1070.7,453.6 L1073.5,456.5 L1074.1,460.3 L1073.2,465.0 L1071.3,468.4 L1069.7,473.0 L1069.6,474.1 L1066.6,475.2 L1065.1,476.7 L1063.2,475.2 L1061.6,476.2 L1058.2,474.9 L1056.6,472.6 L1055.1,469.5 L1054.3,466.8 L1051.8,470.1 L1050.0,467.2 L1047.2,465.7 L1043.5,465.2 L1039.7,466.2 L1037.2,468.0 L1034.1,468.6 L1029.7,470.2 L1026.2,469.2 L1026.8,465.7 L1025.6,462.1 L1023.8,455.8 L1024.3,452.4 L1024.7,451.4 L1027.8,449.8 L1031.0,449.0 L1034.1,447.7 L1035.1,445.5 L1036.7,444.4 L1038.7,441.9 L1041.0,441.2 L1042.6,442.5 L1044.1,442.3 L1045.0,439.6 L1045.7,439.1 L1047.8,437.7 L1051.6,438.6 L1053.2,438.9 L1052.0,441.8 L1051.6,442.7 L1054.5,444.0 L1056.6,445.7 L1058.3,445.1 L1059.1,442.5 L1059.3,439.6 L1059.7,437.3Z M1063.1,479.3 L1067.6,479.6 L1067.2,483.5 L1065.3,484.2 L1063.8,481.9Z M1098.1,469.3 L1100.3,472.2 L1102.0,472.9 L1105.3,474.4 L1103.7,477.0 L1103.2,478.6 L1101.3,480.8 L1100.6,480.1 L1101.2,478.1 L1099.5,477.0 L1100.6,474.9 L1100.3,473.3Z M1098.1,478.9 L1100.1,480.9 L1098.5,483.6 L1096.2,485.6 L1095.6,488.2 L1092.8,489.5 L1090.3,488.4 L1092.2,485.2 L1095.3,483.1 L1097.0,480.6Z M1046.0,424.5 L1049.7,424.5 L1051.0,427.6 L1054.1,425.6 L1058.5,426.8 L1062.8,428.3 L1064.7,430.4 L1067.0,431.9 L1067.2,433.5 L1070.3,436.6 L1066.6,436.1 L1064.7,433.8 L1062.2,433.2 L1061.0,435.0 L1058.5,434.9 L1056.0,433.5 L1054.7,434.0 L1055.7,432.0 L1054.7,430.4 L1051.6,429.0 L1048.5,428.5 L1048.2,427.0 L1047.2,426.2 L1046.0,425.2Z M1001.3,416.5 L1004.1,417.0 L1004.7,418.2 L1007.8,420.8 L1011.6,423.5 L1012.8,425.7 L1014.7,427.5 L1014.5,430.8 L1012.8,430.6 L1010.1,428.5 L1008.2,426.0 L1006.0,423.1 L1004.1,420.4 L1002.2,418.5Z M1013.8,432.0 L1015.7,431.0 L1018.0,431.9 L1020.7,431.5 L1023.1,432.3 L1025.3,433.3 L1025.2,434.4 L1021.0,433.9 L1017.2,433.3 L1015.3,432.8Z M1019.2,421.0 L1021.6,420.0 L1023.5,419.5 L1025.3,417.6 L1027.5,415.4 L1028.7,414.7 L1031.2,416.9 L1029.7,418.1 L1029.5,420.4 L1031.0,422.3 L1029.3,423.0 L1029.1,424.5 L1027.8,426.2 L1027.6,428.3 L1025.5,428.6 L1024.2,427.6 L1022.0,427.8 L1020.1,427.1 L1019.8,425.4 L1018.7,424.1 L1018.5,422.5Z M1032.0,422.5 L1033.3,421.9 L1036.6,422.4 L1038.7,421.5 L1037.8,423.0 L1033.5,423.0 L1032.5,424.6 L1034.1,424.6 L1036.5,424.6 L1035.1,425.6 L1033.8,425.9 L1035.7,428.3 L1036.2,430.1 L1034.7,429.5 L1033.8,427.5 L1032.7,427.0 L1032.7,430.4 L1031.5,430.3 L1031.6,427.9 L1030.7,426.9 L1032.0,423.7Z M1026.0,433.8 L1031.0,433.8 L1036.0,433.8 L1036.0,434.5 L1031.0,434.8 L1026.0,434.5Z M1036.6,436.4 L1041.0,434.0 L1040.3,434.8 L1037.2,436.4Z M1041.6,421.0 L1042.8,421.6 L1042.8,424.1 L1041.8,423.5Z M1032.8,400.0 L1035.0,400.1 L1035.1,402.6 L1034.1,404.5 L1035.3,405.6 L1037.2,406.1 L1037.2,407.6 L1035.3,406.5 L1033.5,406.2 L1033.0,405.2 L1032.2,404.5 L1032.0,402.9 L1032.7,401.3Z M1034.7,414.7 L1036.6,412.7 L1039.0,411.3 L1040.2,413.2 L1040.0,415.5 L1039.0,416.4 L1037.5,415.7 L1037.2,414.4 L1035.0,414.1Z M1034.7,408.8 L1037.8,407.9 L1039.2,409.7 L1038.5,410.9 L1036.6,411.6 L1035.3,411.1Z M1028.8,413.0 L1031.6,409.3 L1031.8,409.9 L1029.3,413.2Z M1034.1,390.9 L1034.6,391.9 L1033.3,395.3 L1032.3,394.0 L1033.5,391.2Z M1018.1,398.9 L1020.3,398.0 L1021.0,398.6 L1019.1,400.4 L1018.1,400.0Z M1059.0,366.6 L1059.7,369.7 L1058.5,372.1 L1058.3,375.2 L1057.2,376.5 L1056.0,376.8 L1055.1,377.4 L1053.5,377.4 L1053.2,379.0 L1052.0,379.0 L1051.0,377.5 L1048.5,377.8 L1046.0,378.3 L1046.6,377.2 L1048.5,375.8 L1051.6,375.7 L1053.1,374.4 L1053.7,372.9 L1055.3,373.0 L1057.0,370.8 L1057.2,368.9 L1057.6,366.9Z M1057.6,366.4 L1058.5,364.7 L1057.8,363.4 L1059.5,359.7 L1061.6,361.8 L1063.8,361.8 L1064.1,363.4 L1062.2,364.0 L1061.2,365.6 L1059.1,364.5 L1058.3,365.9Z M1045.8,378.4 L1047.0,379.0 L1046.6,382.0 L1045.6,382.6 L1045.0,380.5 L1044.3,379.3Z M1047.8,378.3 L1050.3,378.0 L1050.1,379.0 L1048.5,380.1 L1047.7,379.3Z M1059.7,342.4 L1061.0,345.1 L1061.3,349.2 L1062.8,353.1 L1060.7,356.8 L1061.6,358.1 L1059.7,358.6 L1059.7,354.9 L1059.7,350.2 L1059.3,346.1 L1059.5,344.1Z M982.2,411.2 L983.8,412.8 L984.5,414.7 L983.5,415.7 L982.5,416.0 L982.0,414.1Z M947.2,296.3 L951.0,297.0 L954.1,296.6 L952.2,289.5 L952.2,283.0 L956.0,276.9 L962.2,272.3 L967.8,268.5 L964.7,268.0 L957.2,272.3 L952.2,277.4 L949.7,285.2 L947.2,291.6Z M896.0,255.9 L899.7,249.1 L907.2,245.4 L916.0,247.6 L912.2,255.9 L908.5,259.1 L905.3,265.1 L903.5,270.2 L899.7,265.1 L896.6,259.1Z M1053.5,275.9 L1059.7,272.3 L1069.7,276.9 L1064.7,279.3 L1057.2,279.3Z M911.6,375.8 L915.1,376.3 L915.0,376.8 L911.7,376.5Z M922.6,376.8 L925.5,375.7 L924.7,376.9 L923.1,377.4Z M897.7,372.1 L901.7,371.6 L901.1,374.1 L897.8,372.7Z M892.5,367.2 L894.3,366.9 L894.3,370.2 L892.7,370.5Z M893.0,364.9 L894.1,363.9 L894.1,366.4 L893.2,366.2Z M806.0,498.6 L810.0,498.6 L809.1,500.4 L806.0,500.2Z M687.2,397.7 L688.5,398.2 L687.8,399.3 L687.2,398.6Z M684.5,395.7 L685.1,396.1 L684.7,396.4Z M686.3,396.6 L687.2,396.9 L686.7,397.2Z M804.8,409.9 L806.1,409.9 L806.0,410.8 L804.8,410.8Z M896.0,339.3 L898.0,338.4 L897.7,340.9 L896.0,340.4Z M904.8,334.3 L906.0,334.5 L905.2,336.4Z M1067.6,430.5 L1071.6,428.8 L1072.6,429.1 L1071.0,431.0 L1068.5,431.3Z M1077.2,432.0 L1082.2,434.8 L1084.1,436.6 L1082.8,436.1 L1078.5,433.0Z M1087.2,449.3 L1091.0,452.0 L1090.3,452.2 L1087.0,449.8Z M1103.8,445.6 L1105.6,445.8 L1105.1,446.6 L1103.8,446.4Z M1090.5,442.5 L1091.3,443.1 L1092.6,445.8 L1091.7,444.4Z M997.0,244.0 L1002.0,239.0 L1007.0,248.0 L1010.0,253.0 L1014.0,258.0 L1009.0,262.0 L1005.0,256.0 L1000.0,253.0Z M939.0,243.0 L945.0,242.0 L942.4,247.0Z"/>
<path fill="#fff" d="M918.5,366.9 L921.6,366.7 L924.1,365.6 L926.0,365.6 L927.8,366.7 L930.3,367.2 L934.1,366.4 L934.1,364.2 L931.6,362.7 L929.1,360.7 L928.1,359.9 L929.1,357.3 L931.2,356.4 L929.7,358.3 L927.8,359.5 L926.0,360.0 L924.3,361.4 L922.8,359.7 L924.1,358.4 L921.6,357.5 L920.7,357.9 L919.3,360.0 L918.0,362.1 L917.1,364.2 L917.2,365.9Z M941.6,359.5 L944.1,357.7 L946.6,357.2 L948.5,358.1 L948.5,360.4 L946.3,361.1 L945.1,361.6 L946.0,363.5 L947.8,364.7 L948.2,366.9 L949.6,367.7 L948.5,369.7 L949.5,373.2 L947.2,374.1 L945.1,373.2 L943.5,371.6 L944.1,368.4 L943.8,366.9 L942.2,364.7 L941.6,362.7 L940.6,361.1Z"/>
<circle cx="779" cy="393.6" r="15.1" fill="#fff" stroke="#ff4500" stroke-width="9.7"/>
<g stroke="#b4cde3" stroke-width="1" fill="none">
<path d="M105.5,750.30 H730.8"/>
<path d="M105.5,777.80 H730.8"/>
<path d="M105.5,805.30 H730.8"/>
<path d="M105.5,832.80 H730.8"/>
<path d="M105.5,860.30 H730.8"/>
<path d="M105.5,887.80 H730.8"/>
<path d="M105.5,915.30 H730.8"/>
<path d="M105.5,942.80 H730.8"/>
<path d="M105.5,970.30 H730.8"/>
<path d="M105.5,997.80 H730.8"/>
<path d="M131.55,750.3 V1025.3"/>
<path d="M183.66,750.3 V1025.3"/>
<path d="M235.77,750.3 V1025.3"/>
<path d="M287.88,750.3 V1025.3"/>
<path d="M339.99,750.3 V1025.3"/>
<path d="M392.10,750.3 V1025.3"/>
<path d="M444.20,750.3 V1025.3"/>
<path d="M496.31,750.3 V1025.3"/>
<path d="M548.42,750.3 V1025.3"/>
<path d="M600.53,750.3 V1025.3"/>
<path d="M652.64,750.3 V1025.3"/>
<path d="M704.75,750.3 V1025.3"/>
</g>
<g stroke="#005c9e" stroke-width="1.3" fill="none">
<path d="M105.5,749.6999999999999 V1025.8999999999999"/>
<path d="M105.5,1025.3 H730.8"/>
<path d="M100.0,750.30 H105.5"/>
<path d="M100.0,777.80 H105.5"/>
<path d="M100.0,805.30 H105.5"/>
<path d="M100.0,832.80 H105.5"/>
<path d="M100.0,860.30 H105.5"/>
<path d="M100.0,887.80 H105.5"/>
<path d="M100.0,915.30 H105.5"/>
<path d="M100.0,942.80 H105.5"/>
<path d="M100.0,970.30 H105.5"/>
<path d="M100.0,997.80 H105.5"/>
<path d="M100.0,1025.30 H105.5"/>
</g>
<text x="94.30" y="753.90" font-size="10.30" text-anchor="end" font-family="'DejaVu Sans', 'Liberation Sans', sans-serif" textLength="24.60" lengthAdjust="spacingAndGlyphs">30°C</text>
<text x="94.30" y="781.40" font-size="10.30" text-anchor="end" font-family="'DejaVu Sans', 'Liberation Sans', sans-serif" textLength="24.60" lengthAdjust="spacingAndGlyphs">29°C</text>
<text x="94.30" y="808.90" font-size="10.30" text-anchor="end" font-family="'DejaVu Sans', 'Liberation Sans', sans-serif" textLength="24.60" lengthAdjust="spacingAndGlyphs">29°C</text>
<text x="94.30" y="836.40" font-size="10.30" text-anchor="end" font-family="'DejaVu Sans', 'Liberation Sans', sans-serif" textLength="24.60" lengthAdjust="spacingAndGlyphs">28°C</text>
<text x="94.30" y="863.90" font-size="10.30" text-anchor="end" font-family="'DejaVu Sans', 'Liberation Sans', sans-serif" textLength="24.60" lengthAdjust="spacingAndGlyphs">28°C</text>
<text x="94.30" y="891.40" font-size="10.30" text-anchor="end" font-family="'DejaVu Sans', 'Liberation Sans', sans-serif" textLength="24.60" lengthAdjust="spacingAndGlyphs">27°C</text>
<text x="94.30" y="918.90" font-size="10.30" text-anchor="end" font-family="'DejaVu Sans', 'Liberation Sans', sans-serif" textLength="24.60" lengthAdjust="spacingAndGlyphs">27°C</text>
<text x="94.30" y="946.40" font-size="10.30" text-anchor="end" font-family="'DejaVu Sans', 'Liberation Sans', sans-serif" textLength="24.60" lengthAdjust="spacingAndGlyphs">26°C</text>
<text x="94.30" y="973.90" font-size="10.30" text-anchor="end" font-family="'DejaVu Sans', 'Liberation Sans', sans-serif" textLength="24.60" lengthAdjust="spacingAndGlyphs">26°C</text>
<text x="94.30" y="1001.40" font-size="10.30" text-anchor="end" font-family="'DejaVu Sans', 'Liberation Sans', sans-serif" textLength="24.60" lengthAdjust="spacingAndGlyphs">25°C</text>
<text x="94.30" y="1028.90" font-size="10.30" text-anchor="end" font-family="'DejaVu Sans', 'Liberation Sans', sans-serif" textLength="24.60" lengthAdjust="spacingAndGlyphs">25°C</text>
<text x="129.75" y="1045.80" font-size="12.00" text-anchor="middle" font-family="'DejaVu Sans', 'Liberation Sans', sans-serif" letter-spacing="0.3">Sty</text>
<text x="181.86" y="1045.80" font-size="12.00" text-anchor="middle" font-family="'DejaVu Sans', 'Liberation Sans', sans-serif" letter-spacing="0.3">Lut</text>
<text x="233.97" y="1045.80" font-size="12.00" text-anchor="middle" font-family="'DejaVu Sans', 'Liberation Sans', sans-serif" letter-spacing="0.3">Mar</text>
<text x="286.08" y="1045.80" font-size="12.00" text-anchor="middle" font-family="'DejaVu Sans', 'Liberation Sans', sans-serif" letter-spacing="0.3">Kwi</text>
<text x="338.19" y="1045.80" font-size="12.00" text-anchor="middle" font-family="'DejaVu Sans', 'Liberation Sans', sans-serif" letter-spacing="0.3">Maj</text>
<text x="390.30" y="1045.80" font-size="12.00" text-anchor="middle" font-family="'DejaVu Sans', 'Liberation Sans', sans-serif" letter-spacing="0.3">Cze</text>
<text x="442.40" y="1045.80" font-size="12.00" text-anchor="middle" font-family="'DejaVu Sans', 'Liberation Sans', sans-serif" letter-spacing="0.3">Lip</text>
<text x="494.51" y="1045.80" font-size="12.00" text-anchor="middle" font-family="'DejaVu Sans', 'Liberation Sans', sans-serif" letter-spacing="0.3">Sie</text>
<text x="546.62" y="1045.80" font-size="12.00" text-anchor="middle" font-family="'DejaVu Sans', 'Liberation Sans', sans-serif" letter-spacing="0.3">Wrz</text>
<text x="598.73" y="1045.80" font-size="12.00" text-anchor="middle" font-family="'DejaVu Sans', 'Liberation Sans', sans-serif" letter-spacing="0.3">Paź</text>
<text x="650.84" y="1045.80" font-size="12.00" text-anchor="middle" font-family="'DejaVu Sans', 'Liberation Sans', sans-serif" letter-spacing="0.3">Lis</text>
<text x="702.95" y="1045.80" font-size="12.00" text-anchor="middle" font-family="'DejaVu Sans', 'Liberation Sans', sans-serif" letter-spacing="0.3">Gru</text>
<text x="49.80" y="888.80" font-size="12.00" text-anchor="middle" font-family="'DejaVu Sans', 'Liberation Sans', sans-serif" textLength="82.00" lengthAdjust="spacingAndGlyphs" transform="rotate(-90 49.80 888.80)">Temperatura</text>
<polyline points="131.55,970.30 183.66,915.30 235.77,915.30 287.88,860.30 339.99,860.30 392.10,805.30 444.20,805.30 496.31,750.30 548.42,750.30 600.53,805.30 652.64,860.30 704.75,915.30" fill="none" stroke="#ff4500" stroke-width="4" stroke-linejoin="round" stroke-linecap="round"/>
<circle cx="131.55" cy="970.30" r="3.8" fill="#fff" stroke="#ff4500" stroke-width="1"/>
<circle cx="183.66" cy="915.30" r="3.8" fill="#fff" stroke="#ff4500" stroke-width="1"/>
<circle cx="235.77" cy="915.30" r="3.8" fill="#fff" stroke="#ff4500" stroke-width="1"/>
<circle cx="287.88" cy="860.30" r="3.8" fill="#fff" stroke="#ff4500" stroke-width="1"/>
<circle cx="339.99" cy="860.30" r="3.8" fill="#fff" stroke="#ff4500" stroke-width="1"/>
<circle cx="392.10" cy="805.30" r="3.8" fill="#fff" stroke="#ff4500" stroke-width="1"/>
<circle cx="444.20" cy="805.30" r="3.8" fill="#fff" stroke="#ff4500" stroke-width="1"/>
<circle cx="496.31" cy="750.30" r="3.8" fill="#fff" stroke="#ff4500" stroke-width="1"/>
<circle cx="548.42" cy="750.30" r="3.8" fill="#fff" stroke="#ff4500" stroke-width="1"/>
<circle cx="600.53" cy="805.30" r="3.8" fill="#fff" stroke="#ff4500" stroke-width="1"/>
<circle cx="652.64" cy="860.30" r="3.8" fill="#fff" stroke="#ff4500" stroke-width="1"/>
<circle cx="704.75" cy="915.30" r="3.8" fill="#fff" stroke="#ff4500" stroke-width="1"/>
<polyline points="131.55,1025.30 183.66,1025.30 235.77,1025.30 287.88,915.30 339.99,915.30 392.10,860.30 444.20,805.30 496.31,805.30 548.42,805.30 600.53,860.30 652.64,915.30 704.75,970.30" fill="none" stroke="#2d9cdb" stroke-width="4" stroke-linejoin="round" stroke-linecap="round"/>
<circle cx="131.55" cy="1025.30" r="3.8" fill="#fff" stroke="#2d9cdb" stroke-width="1"/>
<circle cx="183.66" cy="1025.30" r="3.8" fill="#fff" stroke="#2d9cdb" stroke-width="1"/>
<circle cx="235.77" cy="1025.30" r="3.8" fill="#fff" stroke="#2d9cdb" stroke-width="1"/>
<circle cx="287.88" cy="915.30" r="3.8" fill="#fff" stroke="#2d9cdb" stroke-width="1"/>
<circle cx="339.99" cy="915.30" r="3.8" fill="#fff" stroke="#2d9cdb" stroke-width="1"/>
<circle cx="392.10" cy="860.30" r="3.8" fill="#fff" stroke="#2d9cdb" stroke-width="1"/>
<circle cx="444.20" cy="805.30" r="3.8" fill="#fff" stroke="#2d9cdb" stroke-width="1"/>
<circle cx="496.31" cy="805.30" r="3.8" fill="#fff" stroke="#2d9cdb" stroke-width="1"/>
<circle cx="548.42" cy="805.30" r="3.8" fill="#fff" stroke="#2d9cdb" stroke-width="1"/>
<circle cx="600.53" cy="860.30" r="3.8" fill="#fff" stroke="#2d9cdb" stroke-width="1"/>
<circle cx="652.64" cy="915.30" r="3.8" fill="#fff" stroke="#2d9cdb" stroke-width="1"/>
<circle cx="704.75" cy="970.30" r="3.8" fill="#fff" stroke="#2d9cdb" stroke-width="1"/>
<path d="M117.2,1080.5 H147.7" stroke="#ff4500" stroke-width="3.4" fill="none"/>
<circle cx="132.4" cy="1080.5" r="2.9" fill="#fff" stroke="#ff4500" stroke-width="1"/>
<text x="157.60" y="1083.80" font-size="11.60" font-family="'DejaVu Sans', 'Liberation Sans', sans-serif" textLength="222.50" lengthAdjust="spacingAndGlyphs">Temperatura maksymalna (średnia)</text>
<path d="M408.6,1080.5 H439.1" stroke="#2d9cdb" stroke-width="3.4" fill="none"/>
<circle cx="423.8" cy="1080.5" r="2.9" fill="#fff" stroke="#2d9cdb" stroke-width="1"/>
<text x="448.40" y="1083.80" font-size="11.60" font-family="'DejaVu Sans', 'Liberation Sans', sans-serif" textLength="210.20" lengthAdjust="spacingAndGlyphs">Temperatura minimalna (średnia)</text>
<g stroke="#b4cde3" stroke-width="1" fill="none">
<path d="M115.8,1509.50 H730.6"/>
<path d="M115.8,1543.84 H730.6"/>
<path d="M115.8,1578.17 H730.6"/>
<path d="M115.8,1612.51 H730.6"/>
<path d="M115.8,1646.85 H730.6"/>
<path d="M115.8,1681.19 H730.6"/>
<path d="M115.8,1715.53 H730.6"/>
<path d="M115.8,1749.86 H730.6"/>
<path d="M167.03,1509.5 V1784.2"/>
<path d="M218.27,1509.5 V1784.2"/>
<path d="M269.50,1509.5 V1784.2"/>
<path d="M320.73,1509.5 V1784.2"/>
<path d="M371.97,1509.5 V1784.2"/>
<path d="M423.20,1509.5 V1784.2"/>
<path d="M474.43,1509.5 V1784.2"/>
<path d="M525.67,1509.5 V1784.2"/>
<path d="M576.90,1509.5 V1784.2"/>
<path d="M628.13,1509.5 V1784.2"/>
<path d="M679.37,1509.5 V1784.2"/>
</g>
<rect x="130.52" y="1728.06" width="21.8" height="56.14" fill="#005c9e"/>
<rect x="181.75" y="1752.09" width="21.8" height="32.11" fill="#005c9e"/>
<rect x="232.98" y="1755.87" width="21.8" height="28.33" fill="#005c9e"/>
<rect x="284.22" y="1739.22" width="21.8" height="44.98" fill="#005c9e"/>
<rect x="335.45" y="1626.93" width="21.8" height="157.27" fill="#005c9e"/>
<rect x="386.68" y="1570.79" width="21.8" height="213.41" fill="#005c9e"/>
<rect x="437.92" y="1607.71" width="21.8" height="176.49" fill="#005c9e"/>
<rect x="489.15" y="1591.74" width="21.8" height="192.46" fill="#005c9e"/>
<rect x="540.38" y="1556.54" width="21.8" height="227.66" fill="#005c9e"/>
<rect x="591.62" y="1515.85" width="21.8" height="268.35" fill="#005c9e"/>
<rect x="642.85" y="1654.06" width="21.8" height="130.14" fill="#005c9e"/>
<rect x="694.08" y="1715.18" width="21.8" height="69.02" fill="#005c9e"/>
<g stroke="#005c9e" stroke-width="1.3" fill="none">
<path d="M115.8,1508.9 V1784.8"/>
<path d="M115.8,1784.2 H730.6"/>
<path d="M110.0,1509.50 H115.8"/>
<path d="M110.0,1543.84 H115.8"/>
<path d="M110.0,1578.17 H115.8"/>
<path d="M110.0,1612.51 H115.8"/>
<path d="M110.0,1646.85 H115.8"/>
<path d="M110.0,1681.19 H115.8"/>
<path d="M110.0,1715.53 H115.8"/>
<path d="M110.0,1749.86 H115.8"/>
<path d="M110.0,1784.20 H115.8"/>
</g>
<text x="104.30" y="1512.90" font-size="10.20" text-anchor="end" font-family="'DejaVu Sans', 'Liberation Sans', sans-serif">160 mm</text>
<text x="104.30" y="1547.24" font-size="10.20" text-anchor="end" font-family="'DejaVu Sans', 'Liberation Sans', sans-serif">140 mm</text>
<text x="104.30" y="1581.58" font-size="10.20" text-anchor="end" font-family="'DejaVu Sans', 'Liberation Sans', sans-serif">120 mm</text>
<text x="104.30" y="1615.91" font-size="10.20" text-anchor="end" font-family="'DejaVu Sans', 'Liberation Sans', sans-serif">100 mm</text>
<text x="104.30" y="1650.25" font-size="10.20" text-anchor="end" font-family="'DejaVu Sans', 'Liberation Sans', sans-serif">80 mm</text>
<text x="104.30" y="1684.59" font-size="10.20" text-anchor="end" font-family="'DejaVu Sans', 'Liberation Sans', sans-serif">60 mm</text>
<text x="104.30" y="1718.93" font-size="10.20" text-anchor="end" font-family="'DejaVu Sans', 'Liberation Sans', sans-serif">40 mm</text>
<text x="104.30" y="1753.26" font-size="10.20" text-anchor="end" font-family="'DejaVu Sans', 'Liberation Sans', sans-serif">20 mm</text>
<text x="104.30" y="1787.60" font-size="10.20" text-anchor="end" font-family="'DejaVu Sans', 'Liberation Sans', sans-serif">0 mm</text>
<text x="139.42" y="1805.20" font-size="12.00" text-anchor="middle" font-family="'DejaVu Sans', 'Liberation Sans', sans-serif" letter-spacing="0.3">Sty</text>
<text x="190.65" y="1805.20" font-size="12.00" text-anchor="middle" font-family="'DejaVu Sans', 'Liberation Sans', sans-serif" letter-spacing="0.3">Lut</text>
<text x="241.88" y="1805.20" font-size="12.00" text-anchor="middle" font-family="'DejaVu Sans', 'Liberation Sans', sans-serif" letter-spacing="0.3">Mar</text>
<text x="293.12" y="1805.20" font-size="12.00" text-anchor="middle" font-family="'DejaVu Sans', 'Liberation Sans', sans-serif" letter-spacing="0.3">Kwi</text>
<text x="344.35" y="1805.20" font-size="12.00" text-anchor="middle" font-family="'DejaVu Sans', 'Liberation Sans', sans-serif" letter-spacing="0.3">Maj</text>
<text x="395.58" y="1805.20" font-size="12.00" text-anchor="middle" font-family="'DejaVu Sans', 'Liberation Sans', sans-serif" letter-spacing="0.3">Cze</text>
<text x="446.82" y="1805.20" font-size="12.00" text-anchor="middle" font-family="'DejaVu Sans', 'Liberation Sans', sans-serif" letter-spacing="0.3">Lip</text>
<text x="498.05" y="1805.20" font-size="12.00" text-anchor="middle" font-family="'DejaVu Sans', 'Liberation Sans', sans-serif" letter-spacing="0.3">Sie</text>
<text x="549.28" y="1805.20" font-size="12.00" text-anchor="middle" font-family="'DejaVu Sans', 'Liberation Sans', sans-serif" letter-spacing="0.3">Wrz</text>
<text x="600.52" y="1805.20" font-size="12.00" text-anchor="middle" font-family="'DejaVu Sans', 'Liberation Sans', sans-serif" letter-spacing="0.3">Paź</text>
<text x="651.75" y="1805.20" font-size="12.00" text-anchor="middle" font-family="'DejaVu Sans', 'Liberation Sans', sans-serif" letter-spacing="0.3">Lis</text>
<text x="702.98" y="1805.20" font-size="12.00" text-anchor="middle" font-family="'DejaVu Sans', 'Liberation Sans', sans-serif" letter-spacing="0.3">Gru</text>
<text x="49.80" y="1647.00" font-size="12.00" text-anchor="middle" font-family="'DejaVu Sans', 'Liberation Sans', sans-serif" textLength="40.80" lengthAdjust="spacingAndGlyphs" transform="rotate(-90 49.80 1647.00)">Opady</text>
<rect x="335" y="1834.6" width="8" height="8" fill="#005c9e"/>
<text x="351.20" y="1843.40" font-size="11.60" font-family="'DejaVu Sans', 'Liberation Sans', sans-serif" textLength="89.60" lengthAdjust="spacingAndGlyphs">Suma opadów</text>
<defs><clipPath id="tclip"><rect x="41.0" y="1185.8" width="1119.0" height="110.0" rx="5" ry="5"/></clipPath></defs>
<g clip-path="url(#tclip)">
<rect x="41" y="1180" width="93" height="120" fill="#ff6e08"/>
<rect x="134" y="1180" width="94" height="120" fill="#ff6e08"/>
<rect x="228" y="1180" width="93" height="120" fill="#ff6e08"/>
<rect x="321" y="1180" width="93" height="120" fill="#ff6600"/>
<rect x="414" y="1180" width="93" height="120" fill="#ff5e00"/>
<rect x="507" y="1180" width="93" height="120" fill="#ff5500"/>
<rect x="600" y="1180" width="94" height="120" fill="#ff5500"/>
<rect x="694" y="1180" width="93" height="120" fill="#ff5500"/>
<rect x="787" y="1180" width="93" height="120" fill="#ff5500"/>
<rect x="880" y="1180" width="94" height="120" fill="#ff5500"/>
<rect x="974" y="1180" width="93" height="120" fill="#ff5e00"/>
<rect x="1067" y="1180" width="98" height="120" fill="#ff6600"/>
<rect x="41.0" y="1225" width="1119.0" height="1" fill="#fff"/>
</g>
<text x="86.42" y="1211.75" font-size="16.30" font-weight="bold" fill="#833401" text-anchor="middle" stroke="#833401" stroke-width="0.28" stroke-linejoin="round">STY</text>
<text x="86.72" y="1270.50" font-size="27.90" font-weight="bold" fill="#833401" text-anchor="middle" stroke="#833401" stroke-width="0.47" stroke-linejoin="round">26°</text>
<text x="179.68" y="1211.75" font-size="16.30" font-weight="bold" fill="#833401" text-anchor="middle" stroke="#833401" stroke-width="0.28" stroke-linejoin="round">LUT</text>
<text x="179.97" y="1270.50" font-size="27.90" font-weight="bold" fill="#833401" text-anchor="middle" stroke="#833401" stroke-width="0.47" stroke-linejoin="round">26°</text>
<text x="272.93" y="1211.75" font-size="16.30" font-weight="bold" fill="#833401" text-anchor="middle" stroke="#833401" stroke-width="0.28" stroke-linejoin="round">MAR</text>
<text x="273.23" y="1270.50" font-size="27.90" font-weight="bold" fill="#833401" text-anchor="middle" stroke="#833401" stroke-width="0.47" stroke-linejoin="round">26°</text>
<text x="366.18" y="1211.75" font-size="16.30" font-weight="bold" fill="#833401" text-anchor="middle" stroke="#833401" stroke-width="0.28" stroke-linejoin="round">KWI</text>
<text x="366.48" y="1270.50" font-size="27.90" font-weight="bold" fill="#833401" text-anchor="middle" stroke="#833401" stroke-width="0.47" stroke-linejoin="round">27°</text>
<text x="459.43" y="1211.75" font-size="16.30" font-weight="bold" fill="#833401" text-anchor="middle" stroke="#833401" stroke-width="0.28" stroke-linejoin="round">MAJ</text>
<text x="459.73" y="1270.50" font-size="27.90" font-weight="bold" fill="#833401" text-anchor="middle" stroke="#833401" stroke-width="0.47" stroke-linejoin="round">28°</text>
<text x="552.67" y="1211.75" font-size="16.30" font-weight="bold" fill="#833401" text-anchor="middle" stroke="#833401" stroke-width="0.28" stroke-linejoin="round">CZE</text>
<text x="552.98" y="1270.50" font-size="27.90" font-weight="bold" fill="#833401" text-anchor="middle" stroke="#833401" stroke-width="0.47" stroke-linejoin="round">29°</text>
<text x="645.92" y="1211.75" font-size="16.30" font-weight="bold" fill="#833401" text-anchor="middle" stroke="#833401" stroke-width="0.28" stroke-linejoin="round">LIP</text>
<text x="646.23" y="1270.50" font-size="27.90" font-weight="bold" fill="#833401" text-anchor="middle" stroke="#833401" stroke-width="0.47" stroke-linejoin="round">29°</text>
<text x="739.17" y="1211.75" font-size="16.30" font-weight="bold" fill="#833401" text-anchor="middle" stroke="#833401" stroke-width="0.28" stroke-linejoin="round">SIE</text>
<text x="739.48" y="1270.50" font-size="27.90" font-weight="bold" fill="#833401" text-anchor="middle" stroke="#833401" stroke-width="0.47" stroke-linejoin="round">29°</text>
<text x="832.42" y="1211.75" font-size="16.30" font-weight="bold" fill="#833401" text-anchor="middle" stroke="#833401" stroke-width="0.28" stroke-linejoin="round">WRZ</text>
<text x="832.73" y="1270.50" font-size="27.90" font-weight="bold" fill="#833401" text-anchor="middle" stroke="#833401" stroke-width="0.47" stroke-linejoin="round">29°</text>
<text x="925.67" y="1211.75" font-size="16.30" font-weight="bold" fill="#833401" text-anchor="middle" stroke="#833401" stroke-width="0.28" stroke-linejoin="round">PAŹ</text>
<text x="925.98" y="1270.50" font-size="27.90" font-weight="bold" fill="#833401" text-anchor="middle" stroke="#833401" stroke-width="0.47" stroke-linejoin="round">29°</text>
<text x="1018.92" y="1211.75" font-size="16.30" font-weight="bold" fill="#833401" text-anchor="middle" stroke="#833401" stroke-width="0.28" stroke-linejoin="round">LIS</text>
<text x="1019.23" y="1270.50" font-size="27.90" font-weight="bold" fill="#833401" text-anchor="middle" stroke="#833401" stroke-width="0.47" stroke-linejoin="round">28°</text>
<text x="1112.17" y="1211.75" font-size="16.30" font-weight="bold" fill="#833401" text-anchor="middle" stroke="#833401" stroke-width="0.28" stroke-linejoin="round">GRU</text>
<text x="1112.47" y="1270.50" font-size="27.90" font-weight="bold" fill="#833401" text-anchor="middle" stroke="#833401" stroke-width="0.47" stroke-linejoin="round">27°</text>
<defs><clipPath id="pclip"><rect x="37.0" y="1870.0" width="703.0" height="150.5" rx="7" ry="7"/></clipPath></defs>
<g clip-path="url(#pclip)">
<rect x="37.0" y="1870.0" width="703.0" height="150.5" fill="#b0dcff"/>
<rect x="37.0" y="1870.0" width="703.0" height="30.7" fill="#2d9cdb"/>
</g>
<text x="319.20" y="1892.50" font-size="16.30" font-weight="bold" fill="#fff" textLength="140.60" lengthAdjust="spacingAndGlyphs" stroke="#fff" stroke-width="0.28" stroke-linejoin="round">SZANSA OPADÓW</text>
<path d="M67.00,1915.5 C73.00,1927.5 92.00,1949.8 92.00,1965.8 A25.0,25.0 0 0 1 42.00,1965.8 C42.00,1949.8 61.00,1927.5 67.00,1915.5 Z" fill="#2d9cdb"/>
<text x="67.00" y="1972.50" font-size="17.50" font-weight="bold" fill="#fff" text-anchor="middle" stroke="#fff" stroke-width="0.30" stroke-linejoin="round">7%</text>
<text x="66.50" y="2008.70" font-size="12.00" font-weight="bold" text-anchor="middle">STY</text>
<path d="M125.45,1915.5 C131.45,1927.5 150.45,1949.8 150.45,1965.8 A25.0,25.0 0 0 1 100.45,1965.8 C100.45,1949.8 119.45,1927.5 125.45,1915.5 Z" fill="#eef7ff"/>
<text x="125.45" y="1972.50" font-size="17.50" font-weight="bold" text-anchor="middle" stroke="#005c9e" stroke-width="0.30" stroke-linejoin="round">3%</text>
<text x="124.95" y="2008.70" font-size="12.00" font-weight="bold" text-anchor="middle">LUT</text>
<path d="M183.90,1915.5 C189.90,1927.5 208.90,1949.8 208.90,1965.8 A25.0,25.0 0 0 1 158.90,1965.8 C158.90,1949.8 177.90,1927.5 183.90,1915.5 Z" fill="#eef7ff"/>
<text x="183.90" y="1972.50" font-size="17.50" font-weight="bold" text-anchor="middle" stroke="#005c9e" stroke-width="0.30" stroke-linejoin="round">3%</text>
<text x="183.40" y="2008.70" font-size="12.00" font-weight="bold" text-anchor="middle">MAR</text>
<path d="M242.35,1915.5 C248.35,1927.5 267.35,1949.8 267.35,1965.8 A25.0,25.0 0 0 1 217.35,1965.8 C217.35,1949.8 236.35,1927.5 242.35,1915.5 Z" fill="#eef7ff"/>
<text x="242.35" y="1972.50" font-size="17.50" font-weight="bold" text-anchor="middle" stroke="#005c9e" stroke-width="0.30" stroke-linejoin="round">4%</text>
<text x="241.85" y="2008.70" font-size="12.00" font-weight="bold" text-anchor="middle">KWI</text>
<path d="M300.80,1915.5 C306.80,1927.5 325.80,1949.8 325.80,1965.8 A25.0,25.0 0 0 1 275.80,1965.8 C275.80,1949.8 294.80,1927.5 300.80,1915.5 Z" fill="#2d9cdb"/>
<text x="300.80" y="1972.50" font-size="17.50" font-weight="bold" fill="#fff" text-anchor="middle" stroke="#fff" stroke-width="0.30" stroke-linejoin="round">25%</text>
<text x="300.30" y="2008.70" font-size="12.00" font-weight="bold" text-anchor="middle">MAJ</text>
<path d="M359.25,1915.5 C365.25,1927.5 384.25,1949.8 384.25,1965.8 A25.0,25.0 0 0 1 334.25,1965.8 C334.25,1949.8 353.25,1927.5 359.25,1915.5 Z" fill="#005c9e"/>
<text x="359.25" y="1972.50" font-size="17.50" font-weight="bold" fill="#fff" text-anchor="middle" stroke="#fff" stroke-width="0.30" stroke-linejoin="round">42%</text>
<text x="358.75" y="2008.70" font-size="12.00" font-weight="bold" text-anchor="middle">CZE</text>
<path d="M417.70,1915.5 C423.70,1927.5 442.70,1949.8 442.70,1965.8 A25.0,25.0 0 0 1 392.70,1965.8 C392.70,1949.8 411.70,1927.5 417.70,1915.5 Z" fill="#005c9e"/>
<text x="417.70" y="1972.50" font-size="17.50" font-weight="bold" fill="#fff" text-anchor="middle" stroke="#fff" stroke-width="0.30" stroke-linejoin="round">34%</text>
<text x="417.20" y="2008.70" font-size="12.00" font-weight="bold" text-anchor="middle">LIP</text>
<path d="M476.15,1915.5 C482.15,1927.5 501.15,1949.8 501.15,1965.8 A25.0,25.0 0 0 1 451.15,1965.8 C451.15,1949.8 470.15,1927.5 476.15,1915.5 Z" fill="#005c9e"/>
<text x="476.15" y="1972.50" font-size="17.50" font-weight="bold" fill="#fff" text-anchor="middle" stroke="#fff" stroke-width="0.30" stroke-linejoin="round">41%</text>
<text x="475.65" y="2008.70" font-size="12.00" font-weight="bold" text-anchor="middle">SIE</text>
<path d="M534.60,1915.5 C540.60,1927.5 559.60,1949.8 559.60,1965.8 A25.0,25.0 0 0 1 509.60,1965.8 C509.60,1949.8 528.60,1927.5 534.60,1915.5 Z" fill="#005c9e"/>
<text x="534.60" y="1972.50" font-size="17.50" font-weight="bold" fill="#fff" text-anchor="middle" stroke="#fff" stroke-width="0.30" stroke-linejoin="round">45%</text>
<text x="534.10" y="2008.70" font-size="12.00" font-weight="bold" text-anchor="middle">WRZ</text>
<path d="M593.05,1915.5 C599.05,1927.5 618.05,1949.8 618.05,1965.8 A25.0,25.0 0 0 1 568.05,1965.8 C568.05,1949.8 587.05,1927.5 593.05,1915.5 Z" fill="#005c9e"/>
<text x="593.05" y="1972.50" font-size="17.50" font-weight="bold" fill="#fff" text-anchor="middle" stroke="#fff" stroke-width="0.30" stroke-linejoin="round">46%</text>
<text x="592.55" y="2008.70" font-size="12.00" font-weight="bold" text-anchor="middle">PAŹ</text>
<path d="M651.50,1915.5 C657.50,1927.5 676.50,1949.8 676.50,1965.8 A25.0,25.0 0 0 1 626.50,1965.8 C626.50,1949.8 645.50,1927.5 651.50,1915.5 Z" fill="#2d9cdb"/>
<text x="651.50" y="1972.50" font-size="17.50" font-weight="bold" fill="#fff" text-anchor="middle" stroke="#fff" stroke-width="0.30" stroke-linejoin="round">21%</text>
<text x="651.00" y="2008.70" font-size="12.00" font-weight="bold" text-anchor="middle">LIS</text>
<path d="M709.95,1915.5 C715.95,1927.5 734.95,1949.8 734.95,1965.8 A25.0,25.0 0 0 1 684.95,1965.8 C684.95,1949.8 703.95,1927.5 709.95,1915.5 Z" fill="#2d9cdb"/>
<text x="709.95" y="1972.50" font-size="17.50" font-weight="bold" fill="#fff" text-anchor="middle" stroke="#fff" stroke-width="0.30" stroke-linejoin="round">10%</text>
<text x="709.45" y="2008.70" font-size="12.00" font-weight="bold" text-anchor="middle">GRU</text>
<text x="983.00" y="2119.60" font-size="24.40" font-weight="bold" fill="#fff" textLength="175.50" lengthAdjust="spacingAndGlyphs" stroke="#fff" stroke-width="0.41" stroke-linejoin="round">METEOATLAS.PL</text>
<text x="185.70" y="2117.30" font-size="16.00" font-weight="bold" fill="#b0dcff" font-family="'DejaVu Sans', 'Liberation Sans', sans-serif" textLength="113.00" lengthAdjust="spacingAndGlyphs">CC BY-ND 4.0</text>
<circle cx="58.1" cy="2111.5" r="17" fill="none" stroke="#b0dcff" stroke-width="2.9"/>
<text x="58.10" y="2117.40" font-size="16.20" font-weight="bold" fill="#b0dcff" text-anchor="middle" font-family="'DejaVu Sans', 'Liberation Sans', sans-serif" textLength="22.50" lengthAdjust="spacingAndGlyphs">CC</text>
<circle cx="106.6" cy="2111.5" r="17" fill="none" stroke="#b0dcff" stroke-width="2.9"/>
<circle cx="106.3" cy="2102.0" r="2.7" fill="#b0dcff"/>
<path d="M101.3,2105.7 H111.3 V2113.7 H109.3 V2123.0 H103.6 V2113.7 H101.3 Z" fill="#b0dcff"/>
<circle cx="155.0" cy="2111.5" r="17" fill="none" stroke="#b0dcff" stroke-width="2.9"/>
<rect x="148.0" y="2107.3" width="14" height="2.8" fill="#b0dcff"/>
<rect x="148.0" y="2113.0" width="14" height="2.9" fill="#b0dcff"/>
</svg>
</body>
</html>
